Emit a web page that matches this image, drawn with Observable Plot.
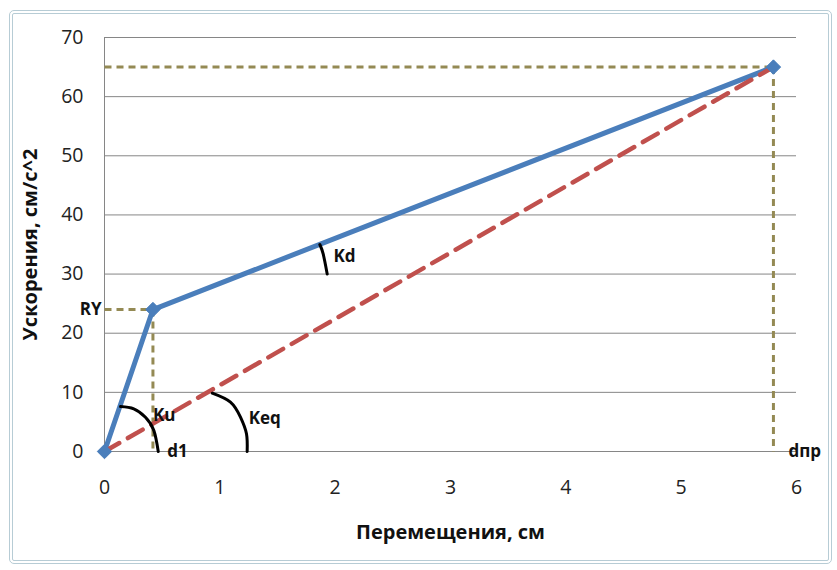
<!DOCTYPE html>
<html>
<head>
<meta charset="utf-8">
<script src="https://cdn.jsdelivr.net/npm/d3@7"></script>
<script src="https://cdn.jsdelivr.net/npm/@observablehq/plot@0.6"></script>
<style>
  html, body { margin: 0; padding: 0; background: #fff; }
  #wrap { position: relative; width: 837px; height: 570px; }
  #frame { position: absolute; left: 9px; top: 10px; width: 815px; height: 546px;
           border: 4px double #b7ccd5; border-radius: 5px; pointer-events: none; }
  #chart { position: absolute; left: 0; top: 0; }
</style>
</head>
<body>
<div id="wrap"><div id="chart"></div><div id="frame"></div></div>
<script>
// Data
const xTicks = [0, 1, 2, 3, 4, 5, 6];
const yTicks = [0, 10, 20, 30, 40, 50, 60, 70];
const pointX = [0, 0.42, 5.8];          // Перемещения, см
const pointY = [0, 24, 65];             // Ускорения, см/с^2
const eqX = [0, 5.8];                   // secant (Keq)
const eqY = [0, 65];

// angle arcs (data coords)
const kuArcX = [0.139, 0.254, 0.355, 0.428, 0.466];
const kuArcY = [7.61, 7.22, 5.80, 3.55, 0.0];
const keqArcX = [0.934, 1.092, 1.179, 1.231, 1.237];
const keqArcY = [9.86, 8.34, 5.80, 2.99, 0.0];
const kdArcX = [1.867, 1.896, 1.931];
const kdArcY = [35.0, 33.4, 30.0];

// annotation labels
const labelText = ["Ku", "Keq", "d1", "Kd", "dпр"];
const labelX = [0.42, 1.25, 0.545, 1.985, 5.93];
const labelY = [6.1, 5.6, 0, 33.0, 0];
const ryText = ["RY"];

const xTitle = "Перемещения, см";
const yTitle = "Ускорения, см/с^2";

const pts = pointX.map((x, i) => ({x, y: pointY[i]}));
const eq = eqX.map((x, i) => ({x, y: eqY[i]}));
const guides = pts.slice(1);
const labels = labelText.map((t, i) => ({t, x: labelX[i], y: labelY[i]}));
const arc = (xs, ys) => xs.map((x, i) => ({x, y: ys[i]}));

const blue = "#4a7ebb", red = "#c0504d", olive = "#948a54", grid = "#868686";
const bold = {fontWeight: "bold", fontSize: 17, fill: "#111"};

const chart = Plot.plot({
  width: 837, height: 570,
  marginLeft: 104, marginRight: 41, marginTop: 37, marginBottom: 119,
  x: {domain: [0, 6]},
  y: {domain: [0, 70]},
  style: {fontFamily: "'Open Sans', sans-serif", background: "transparent", color: "#222"},
  marks: [
    Plot.ruleY(yTicks, {stroke: grid, strokeWidth: 1}),
    Plot.ruleX([0], {y1: 0, y2: 70, stroke: grid, strokeWidth: 1}),
    Plot.axisY({ticks: yTicks, tickFormat: "d", tickSize: 0, tickPadding: 21, fontSize: 19.5, label: null}),
    Plot.axisX({ticks: xTicks, tickFormat: "d", tickSize: 0, tickPadding: 29, fontSize: 19.5, label: null}),
    // guide lines
    Plot.link(guides, {x1: 0, y1: "y", x2: "x", y2: "y", stroke: olive, strokeWidth: 3, strokeDasharray: "7,5"}),
    Plot.link(guides, {x1: "x", y1: "y", x2: "x", y2: 0, stroke: olive, strokeWidth: 3, strokeDasharray: "7,5"}),
    // main series
    Plot.line(pts, {x: "x", y: "y", stroke: blue, strokeWidth: 5, strokeLinejoin: "round"}),
    Plot.line(eq, {x: "x", y: "y", stroke: red, strokeWidth: 4.5, strokeDasharray: "17,10"}),
    Plot.dot(pts, {x: "x", y: "y", symbol: "diamond2", r: 6.5, fill: blue, stroke: blue, strokeWidth: 1}),
    // arcs
    Plot.line(arc(kuArcX, kuArcY), {x: "x", y: "y", curve: "natural", stroke: "#000", strokeWidth: 3}),
    Plot.line(arc(keqArcX, keqArcY), {x: "x", y: "y", curve: "natural", stroke: "#000", strokeWidth: 3}),
    Plot.line(arc(kdArcX, kdArcY), {x: "x", y: "y", curve: "natural", stroke: "#000", strokeWidth: 3}),
    // labels
    Plot.text(labels, {x: "x", y: "y", text: "t", textAnchor: "start", ...bold}),
    Plot.text(ryText, {x: 0, y: pointY[1], text: d => d, textAnchor: "end", dx: -3, ...bold}),
    // axis titles
    Plot.text([xTitle], {frameAnchor: "bottom", dy: 81, textAnchor: "middle", lineAnchor: "middle", text: d => d, fontSize: 20, fontWeight: "bold", fill: "#111"}),
    Plot.text([yTitle], {frameAnchor: "left", dx: -74, rotate: -90, textAnchor: "middle", lineAnchor: "middle", text: d => d, fontSize: 20, fontWeight: "bold", fill: "#111"})
  ]
});
document.getElementById("chart").appendChild(chart);
</script>
</body>
</html>
